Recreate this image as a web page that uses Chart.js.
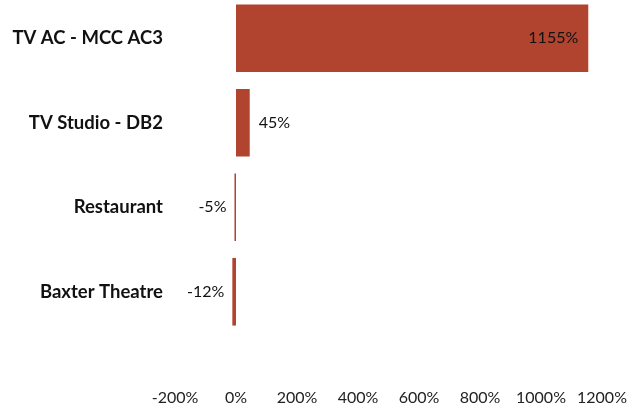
<!DOCTYPE html>
<html>
<head>
<meta charset="utf-8">
<script src="https://cdn.jsdelivr.net/npm/chart.js@4/dist/chart.umd.min.js"></script>
<style>
  html, body { margin: 0; padding: 0; background: #fff; overflow: hidden; }
  #wrap { position: absolute; left: 0; top: -4px; width: 641px; height: 416px; }
</style>
</head>
<body>
<div id="wrap"><canvas id="chart" width="641" height="416"></canvas></div>
<script>
// valores
const categories = ['TV AC - MCC AC3', 'TV Studio - DB2', 'Restaurant', 'Baxter Theatre'];
const changePct = [1155, 45, -5, -12];
const axisMin = -200;
const axisMax = 1200;
const axisStep = 200;

const barColor = '#b1442e';

// rótulos de valor ao lado / dentro das barras
const valueLabels = {
    id: 'valueLabels',
    afterDatasetsDraw(chart) {
        const ctx = chart.ctx;
        const meta = chart.getDatasetMeta(0);
        ctx.save();
        ctx.font = '16px Lato';
        ctx.fillStyle = '#111';
        ctx.textBaseline = 'middle';
        meta.data.forEach((bar, i) => {
            const v = changePct[i];
            const txt = v + '%';
            const w = Math.abs(bar.x - bar.base);
            if (v >= 0 && w > 80) {
                ctx.textAlign = 'right';
                ctx.fillText(txt, bar.x - 10, bar.y);
            } else if (v >= 0) {
                ctx.textAlign = 'left';
                ctx.fillText(txt, bar.x + 9, bar.y);
            } else {
                ctx.textAlign = 'right';
                ctx.fillText(txt, bar.x - 8, bar.y);
            }
        });
        ctx.restore();
    }
};

new Chart(document.getElementById('chart'), {
    type: 'bar',
    data: {
        labels: categories,
        datasets: [{
            data: changePct,
            backgroundColor: barColor,
            borderWidth: 0,
            categoryPercentage: 0.8,
            barPercentage: 1.0
        }]
    },
    options: {
        indexAxis: 'y',
        responsive: false,
        animation: false,
        layout: { padding: { left: 0, right: 39, top: 0, bottom: 6 } },
        plugins: {
            legend: { display: false },
            tooltip: { enabled: false }
        },
        scales: {
            x: {
                min: axisMin,
                max: axisMax,
                grid: { display: false, drawTicks: false },
                border: { display: false },
                afterFit: s => {
                    s.height = 72;
                    s.paddingLeft = 0;
                    s.paddingRight = 0;
                },
                ticks: {
                    stepSize: axisStep,
                    padding: 54,
                    maxRotation: 0,
                    autoSkip: false,
                    color: '#222',
                    font: { family: 'Lato', size: 16 },
                    callback: v => v + '%'
                }
            },
            y: {
                grid: { display: false, drawTicks: false },
                border: { display: false },
                afterFit: s => {
                    s.width = 175;
                    s.paddingTop = 0;
                    s.paddingBottom = 0;
                },
                ticks: {
                    padding: 12,
                    color: '#111',
                    font: { family: 'Lato', size: 18.5, weight: 'bold' }
                }
            }
        }
    },
    plugins: [valueLabels]
});
</script>
</body>
</html>
